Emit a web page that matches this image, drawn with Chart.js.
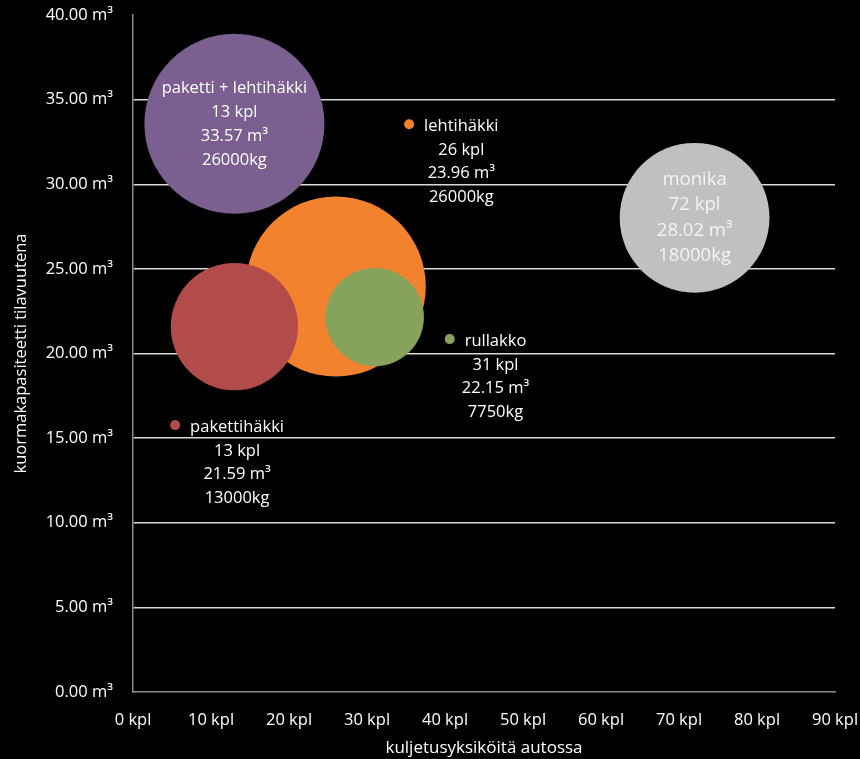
<!DOCTYPE html>
<html>
<head>
<meta charset="utf-8">
<script src="https://cdn.jsdelivr.net/npm/chart.js@4.4.0/dist/chart.umd.min.js"></script>
<style>
  html, body { margin: 0; padding: 0; background: #000; }
</style>
</head>
<body>
<canvas id="mycanvas" width="860" height="759"></canvas>
<script>
// data
const names = ["paketti + lehtihäkki", "lehtihäkki", "pakettihäkki", "rullakko", "monika"];
const units = [13, 26, 13, 31, 72];              // kpl
const volume = [33.57, 23.96, 21.59, 22.15, 28.02]; // m³
const weight = [26000, 26000, 13000, 7750, 18000];  // kg -> bubble size
// small key dots that carry some of the labels (null = label sits on the bubble)
const keyX = [null, 35.4, 5.4, 40.6, null];
const keyY = [null, 33.55, 15.77, 20.85, null];
const xTicks = [0, 10, 20, 30, 40, 50, 60, 70, 80, 90];
const yTicks = [0, 5, 10, 15, 20, 25, 30, 35, 40];

const colors = ["#7b5f91", "#f2822e", "#b24c4a", "#87a35b", "#c0c0c0"];
const FONT = "'Open Sans', sans-serif";
const maxR = 90; // pixel radius of the biggest bubble

let bubbles = [];
let keys = [];
for (let i = 0; i < names.length; i++) {
    bubbles.push({ x: units[i], y: volume[i], r: maxR * Math.sqrt(weight[i] / Math.max(...weight)) });
    if (keyX[i] !== null) keys.push({ x: keyX[i], y: keyY[i], r: 5, c: colors[i] });
}

const bgPlugin = {
    id: "bg",
    beforeDraw(chart) {
        const ctx = chart.ctx;
        ctx.save();
        ctx.fillStyle = "#000";
        ctx.fillRect(0, 0, chart.width, chart.height);
        ctx.restore();
    }
};

const labelPlugin = {
    id: "bubbleLabels",
    afterDatasetsDraw(chart) {
        const ctx = chart.ctx;
        const xs = chart.scales.x, ys = chart.scales.y;
        ctx.save();
        ctx.textBaseline = "middle";
        for (let i = 0; i < names.length; i++) {
            const lines = [names[i], units[i] + " kpl", volume[i].toFixed(2) + " m³", weight[i] + "kg"];
            if (keyX[i] === null) {
                const big = i === 4;
                const size = big ? 18.5 : 16.5;
                const gap = big ? 25.5 : 24;
                ctx.font = size + "px " + FONT;
                ctx.fillStyle = big ? "#f4f4f4" : "#fff";
                ctx.textAlign = "center";
                const cx = xs.getPixelForValue(units[i]);
                const cy = ys.getPixelForValue(volume[i]);
                lines.forEach((t, k) => ctx.fillText(t, cx, cy + (k - 1.5) * gap));
            } else {
                ctx.font = "16.5px " + FONT;
                ctx.fillStyle = "#fff";
                const kx = xs.getPixelForValue(keyX[i]);
                const ky = ys.getPixelForValue(keyY[i]) + 2.5;
                const w = ctx.measureText(lines[0]).width;
                ctx.textAlign = "left";
                ctx.fillText(lines[0], kx + 15, ky);
                ctx.textAlign = "center";
                const mid = kx + 15 + w / 2;
                for (let k = 1; k < lines.length; k++) ctx.fillText(lines[k], mid, ky + k * 23.5);
            }
        }
        ctx.restore();
    }
};

let ctx = document.getElementById("mycanvas");

let BubbleGraph = new Chart(ctx, {
    type: "bubble",
    data: {
        datasets: [{
                label: "kuljetusyksiköt",
                data: bubbles,
                backgroundColor: colors,
                borderWidth: 0,
                hoverRadius: 0
            },
            {
                label: "avain",
                data: keys,
                backgroundColor: keys.map(k => k.c),
                borderWidth: 0,
                hoverRadius: 0
            }
        ]
    },
    options: {
        responsive: false,
        animation: false,
        events: [],
        layout: { autoPadding: false, padding: { top: 15, right: 25, left: 0, bottom: 0 } },
        plugins: {
            legend: { display: false },
            tooltip: { enabled: false }
        },
        scales: {
            x: {
                type: "linear",
                min: 0,
                max: 90,
                afterFit: s => { s.height = 67; s.paddingLeft = 0; s.paddingRight = 0; },
                afterBuildTicks: s => { s.ticks = xTicks.map(v => ({ value: v })); },
                grid: { display: false, drawTicks: false },
                border: { display: true, color: "#8c8c8c", width: 1.5 },
                ticks: {
                    color: "#fff",
                    padding: 18,
                    maxRotation: 0,
                    font: { family: FONT, size: 16.5 },
                    callback: v => v + " kpl"
                },
                title: {
                    display: true,
                    text: "kuljetusyksiköitä autossa",
                    color: "#fff",
                    font: { family: FONT, size: 17 },
                    padding: { top: 0, bottom: 1 }
                }
            },
            y: {
                type: "linear",
                min: 0,
                max: 40,
                afterFit: s => { s.width = 133; s.paddingTop = 0; s.paddingBottom = 0; },
                afterBuildTicks: s => { s.ticks = yTicks.map(v => ({ value: v })); },
                grid: {
                    drawTicks: false,
                    color: c => (c.tick.value === 0 || c.tick.value === 40) ? "rgba(0,0,0,0)" : "#d9d9d9",
                    lineWidth: 1.5
                },
                border: { display: true, color: "#8c8c8c", width: 1.5 },
                ticks: {
                    color: "#fff",
                    padding: 20,
                    font: { family: FONT, size: 16.5 },
                    callback: v => v.toFixed(2) + " m³"
                },
                title: {
                    display: true,
                    text: "kuormakapasiteetti tilavuutena",
                    color: "#fff",
                    font: { family: FONT, size: 16.5 },
                    padding: { top: 11, bottom: 0 }
                }
            }
        }
    },
    plugins: [bgPlugin, labelPlugin]
});
</script>
</body>
</html>
